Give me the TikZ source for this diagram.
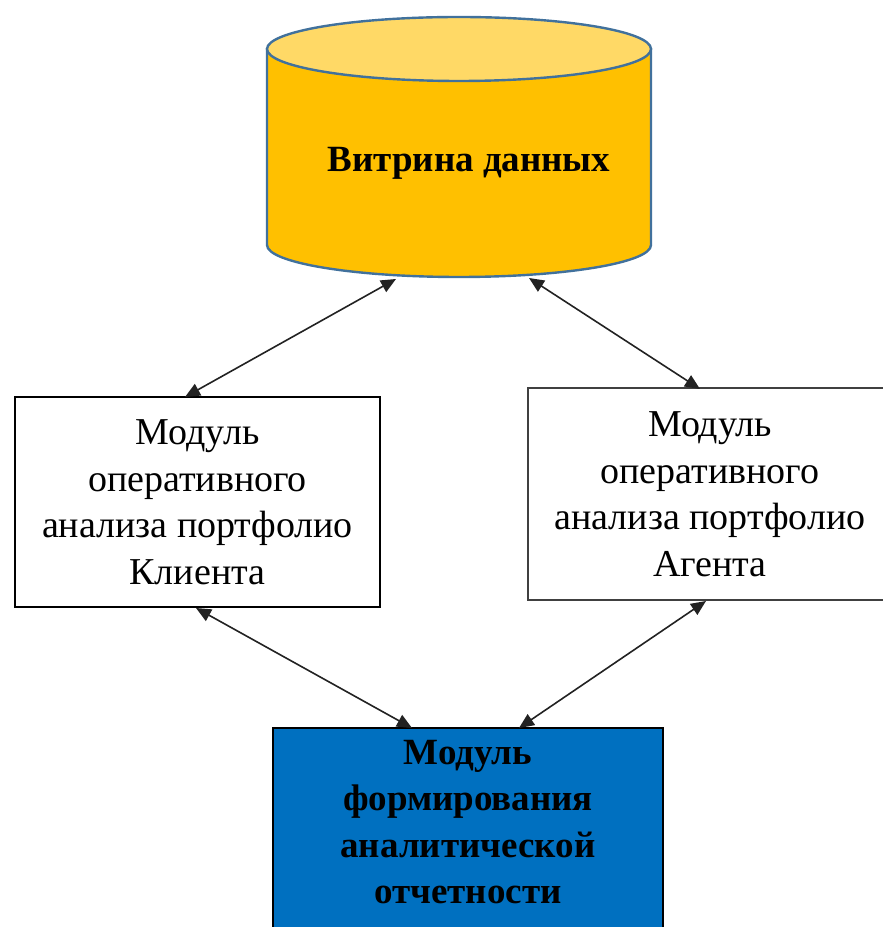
\documentclass[tikz,border=0pt]{standalone}
\usepackage{fontspec}
\setmainfont{Liberation Serif}
\usetikzlibrary{arrows.meta}
\definecolor{martbody}{HTML}{FFC000}
\definecolor{marttop}{HTML}{FFD966}
\definecolor{martedge}{HTML}{41719C}
\definecolor{reportfill}{HTML}{0070C0}
\definecolor{linkgray}{HTML}{222222}
\begin{document}
\begin{tikzpicture}[x=1pt,y=1pt,
  modulebox/.style={draw=black, line width=1.3pt, fill=white, inner sep=0pt},
  boxtext/.style={align=center, font=\fontsize{38}{46.5}\selectfont},
  boldtext/.style={align=center, font=\bfseries\fontsize{37}{46.5}\selectfont},
  link/.style={draw=linkgray, line width=1.6pt,
    {Triangle[length=15pt,width=13pt]}-{Triangle[length=15pt,width=13pt]}}]
\useasboundingbox (0,0) rectangle (883,927);

% data mart cylinder
\filldraw[fill=martbody, draw=martedge, line width=2.4pt]
  (267,878) -- (267,682) arc[start angle=180, end angle=360, x radius=192pt, y radius=32pt]
  -- (651,878) -- cycle;
\filldraw[fill=marttop, draw=martedge, line width=2.4pt]
  (459,878) ellipse[x radius=192pt, y radius=32pt];
\node[boldtext] (mart) at (469,764) {Витрина данных};

% analysis modules
\node[modulebox, minimum width=365pt, minimum height=210pt] (client) at (197.5,425) {};
\node[boxtext] at (client.center) {Модуль\\оперативного\\анализа портфолио\\Клиента};
\node[modulebox, draw=black!75, minimum width=364pt, minimum height=212pt] (agent) at (710,433) {};
\node[boxtext] at (agent.center) {Модуль\\оперативного\\анализа портфолио\\Агента};

% reporting module
\node[draw=black, line width=1.3pt, fill=reportfill, minimum width=390pt, minimum height=222pt, inner sep=0pt] (report) at (468,88) {};
\node[boldtext] at (468,105) {Модуль\\формирования\\аналитической\\отчетности};

% link end points
\coordinate (martL) at (396,648);
\coordinate (martR) at (529,649);
\coordinate (clientT) at (185,530);
\coordinate (agentT) at (700,538);
\coordinate (clientB) at (196,319);
\coordinate (agentB) at (706,326);
\coordinate (reportL) at (412,199);
\coordinate (reportR) at (519,199);

\draw[link] (martL) -- (clientT);
\draw[link] (martR) -- (agentT);
\draw[link] (clientB) -- (reportL);
\draw[link] (agentB) -- (reportR);
\end{tikzpicture}
\end{document}
